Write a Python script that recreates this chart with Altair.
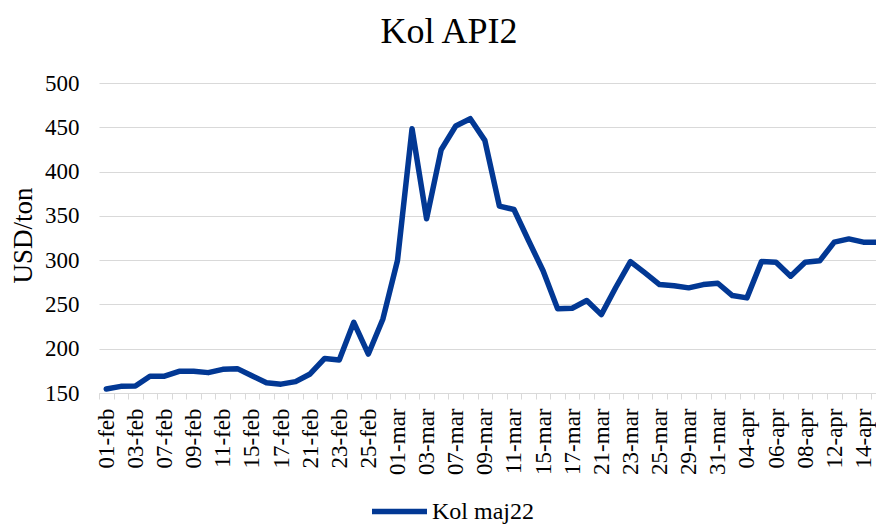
import json
import altair as alt
import pandas as pd

dates = [
    "01-feb", "02-feb", "03-feb", "04-feb", "07-feb", "08-feb", "09-feb", "10-feb",
    "11-feb", "14-feb", "15-feb", "16-feb", "17-feb", "18-feb", "21-feb", "22-feb",
    "23-feb", "24-feb", "25-feb", "28-feb", "01-mar", "02-mar", "03-mar", "04-mar",
    "07-mar", "08-mar", "09-mar", "10-mar", "11-mar", "14-mar", "15-mar", "16-mar",
    "17-mar", "18-mar", "21-mar", "22-mar", "23-mar", "24-mar", "25-mar", "28-mar",
    "29-mar", "30-mar", "31-mar", "01-apr", "04-apr", "05-apr", "06-apr", "07-apr",
    "08-apr", "11-apr", "12-apr", "13-apr", "14-apr", "15-apr",
]
values = [
    154.5, 157.5, 158, 169, 169, 174.5, 174.5, 173, 176.7, 177.5,
    169.5, 161.6, 160, 162.8, 171.5, 189, 187.3, 229.8, 194, 233.6,
    299.6, 448.4, 346.7, 424.7, 451.4, 459.7, 435.2, 361, 357.2, 322.2,
    288, 245, 245.7, 254.4, 238.5, 269.4, 298.4, 285.6, 272.4, 271,
    268.7, 272.4, 273.9, 260, 257.4, 298.4, 297.7, 281.9, 297.7, 299.2,
    320.3, 324, 320.3, 320.3,
]
series_name = "Kol maj22"
y_ticks = [150, 200, 250, 300, 350, 400, 450, 500]

# one slot per trading day; the view is cropped on the right (15-apr only partly shown)
PLOT_W = 777
STEP = 14.56
idx = list(range(len(dates)))
tick_positions = [i - 0.5 for i in idx]
shown = [d if i % 2 == 0 and i <= 52 else "" for i, d in enumerate(dates)]

df = pd.DataFrame({"i": idx, "dato": dates, "pris": values, "serie": [series_name] * len(dates)})

FONT = "Liberation Serif"
GRID = "#d9d9d9"
BLUE = "#023894"

label_expr = json.dumps(shown) + "[datum.value + 0.5]"

chart = alt.Chart(df).mark_line(strokeWidth=5.5, strokeCap="round", strokeJoin="round", clip=True).encode(
    x=alt.X(
        "i:Q",
        scale=alt.Scale(domain=[-0.5, PLOT_W / STEP - 0.5], nice=False, zero=False),
        axis=alt.Axis(
            title=None,
            values=tick_positions,
            labelAngle=-90,
            labelExpr=label_expr,
            labelOffset=STEP / 2,
            labelOverlap=False,
            labelFlush=False,
            labelBound=False,
            tickColor=GRID,
            tickSize=6,
            domainColor=GRID,
            grid=False,
            labelFont=FONT,
            labelFontSize=23,
            labelColor="black",
            labelPadding=9,
        ),
    ),
    y=alt.Y(
        "pris:Q",
        scale=alt.Scale(domain=[150, 500], nice=False, zero=False),
        axis=alt.Axis(
            values=y_ticks,
            title="USD/ton",
            titleFont=FONT,
            titleFontSize=27,
            titleFontWeight="normal",
            titleColor="black",
            titleAngle=-90,
            titleAlign="center",
            titleBaseline="middle",
            titleX=-76,
            titleY=152,
            labelFont=FONT,
            labelFontSize=23,
            labelColor="black",
            ticks=False,
            domain=False,
            gridColor=GRID,
            labelPadding=20,
        ),
    ),
    color=alt.Color(
        "serie:N",
        scale=alt.Scale(range=[BLUE]),
        legend=alt.Legend(
            title=None,
            orient="none",
            legendX=270,
            legendY=398,
            symbolType="stroke",
            symbolSize=3025,
            symbolStrokeWidth=5.5,
            labelFont=FONT,
            labelFontSize=24,
            labelColor="black",
            labelOffset=2,
            padding=0,
        ),
    ),
).properties(
    width=PLOT_W,
    height=310,
    autosize=alt.AutoSizeParams(type="none"),
    padding={"left": 91, "top": 75, "right": 0, "bottom": 132},
    title=alt.Title(
        "Kol API2",
        font=FONT,
        fontSize=36,
        fontWeight="normal",
        color="black",
        anchor="middle",
        frame="group",
        dx=-38.5,
        dy=39,
        baseline="alphabetic",
        offset=32,
    ),
).configure_view(stroke=None)

chart.save("out.html", embed_options={"renderer": "svg", "actions": False})
